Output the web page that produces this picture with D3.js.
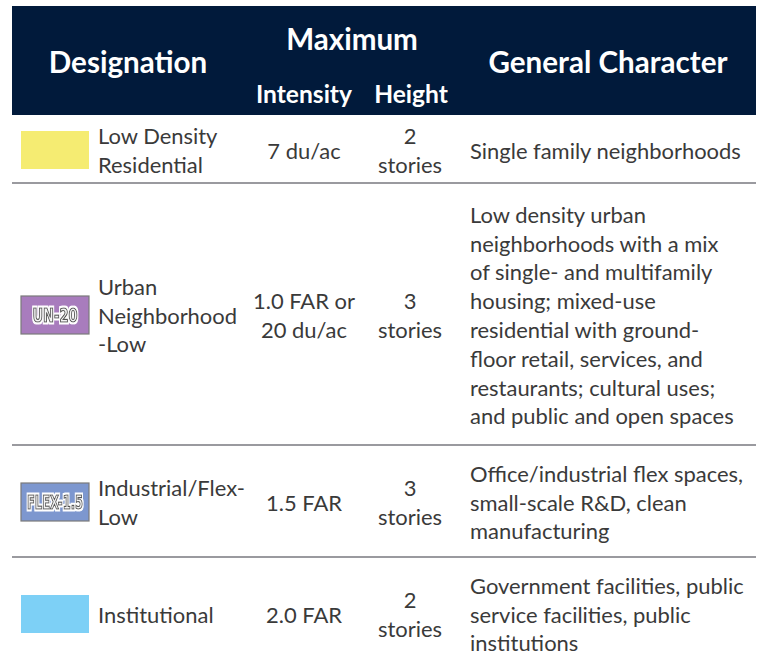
<!DOCTYPE html>
<html><head><meta charset="utf-8">
<script src="https://cdn.jsdelivr.net/npm/d3@7"></script>
<style>html,body{margin:0;padding:0;background:#fff;}svg{display:block;}</style>
</head><body>
<svg id="c" width="764" height="669"></svg>
<script>
// ---- data ----
const designations = [["Low Density","Residential"],["Urban","Neighborhood","-Low"],["Industrial/Flex-","Low"],["Institutional"]];
const swatchColors = ["#f5ec72","#a87cbd","#7d97cf","#7dd0f6"];
const swatchLabels = ["","UN-20","FLEX-1.5",""];
const intensity = [["7 du/ac"],["1.0 FAR or","20 du/ac"],["1.5 FAR"],["2.0 FAR"]];
const heightVals = [["2","stories"],["3","stories"],["3","stories"],["2","stories"]];
const character = [
  ["Single family neighborhoods"],
  ["Low density urban","neighborhoods with a mix","of single- and multifamily","housing; mixed-use","residential with ground-","floor retail, services, and","restaurants; cultural uses;","and public and open spaces"],
  ["Office/industrial flex spaces,","small-scale R&D, clean","manufacturing"],
  ["Government facilities, public","service facilities, public","institutions"]
];
const headers = {designation:"Designation", maximum:"Maximum", intensity:"Intensity", height:"Height", character:"General Character"};

// ---- layout ----
const svg = d3.select("#c");
const left = 12, right = 756;
const headTop = 6, headBottom = 115;
const rowEdges = [115, 183, 445, 557, 669];
const lineH = 28.8;
const font = "Lato, 'Open Sans', sans-serif";
const textColor = "#3a3a3a";

const defs = svg.append("defs");
const f = defs.append("filter").attr("id","halo").attr("x","-20%").attr("y","-40%").attr("width","140%").attr("height","180%");
f.append("feMorphology").attr("in","SourceAlpha").attr("operator","dilate").attr("radius",1.2).attr("result","d");
f.append("feFlood").attr("flood-color","#ffffff").attr("result","w");
f.append("feComposite").attr("in","w").attr("in2","d").attr("operator","in").attr("result","h");
const m = f.append("feMerge");
m.append("feMergeNode").attr("in","h");
m.append("feMergeNode").attr("in","SourceGraphic");

function fitSize(str, weight, targetW, base){
  const t = svg.append("text").attr("font-family", font).attr("font-weight", weight).attr("font-size", base).text(str);
  const w = t.node().getComputedTextLength(); t.remove();
  return base * targetW / w;
}
const bodySize = fitSize("Single family neighborhoods", 400, 271, 20);
const headSize = fitSize("General Character", 700, 239, 26);
const subSize = fitSize("Intensity", 700, 96, 20);

svg.append("rect").attr("x", left).attr("y", headTop).attr("width", right-left).attr("height", headBottom-headTop).attr("fill", "#011a3b");
const hd = svg.append("g").attr("fill", "#fff").attr("font-family", font).attr("font-weight", 700);
hd.append("text").attr("x", 128).attr("y", 63).attr("dy","0.35em").attr("text-anchor","middle").attr("font-size", headSize).text(headers.designation);
hd.append("text").attr("x", 352).attr("y", 40).attr("dy","0.35em").attr("text-anchor","middle").attr("font-size", headSize).text(headers.maximum);
hd.append("text").attr("x", 304).attr("y", 94).attr("dy","0.35em").attr("text-anchor","middle").attr("font-size", subSize).text(headers.intensity);
hd.append("text").attr("x", 411).attr("y", 94).attr("dy","0.35em").attr("text-anchor","middle").attr("font-size", subSize).text(headers.height);
hd.append("text").attr("x", 608).attr("y", 63).attr("dy","0.35em").attr("text-anchor","middle").attr("font-size", headSize).text(headers.character);

const rows = d3.range(designations.length);
const rowCenter = i => (rowEdges[i] + rowEdges[i+1]) / 2;

svg.selectAll("line.sep").data(rowEdges.slice(1, -1)).join("line")
  .attr("class","sep").attr("x1", left).attr("x2", right).attr("y1", d=>d).attr("y2", d=>d)
  .attr("stroke", "#9a9a9f").attr("stroke-width", 2);

function block(g, lines, x, cy, anchor){
  const n = lines.length;
  const t = g.append("text").attr("font-family", font).attr("font-size", bodySize).attr("fill", textColor).attr("text-anchor", anchor);
  lines.forEach((s, k) => {
    t.append("tspan").attr("x", x).attr("y", cy + 2 + (k - (n-1)/2) * lineH).attr("dy", "0.35em").text(s);
  });
}

const rg = svg.selectAll("g.row").data(rows).join("g").attr("class","row");
rg.each(function(i){
  const g = d3.select(this);
  const cy = rowCenter(i);
  g.append("rect").attr("x", 21).attr("y", cy + 1 - 19).attr("width", 68).attr("height", 38)
    .attr("fill", swatchColors[i]).attr("stroke", swatchLabels[i] ? "#7a7a7a" : "none").attr("stroke-width", 1.2);
  if (swatchLabels[i]) {
    const lw = swatchLabels[i].length > 5 ? 56 : 45;
    g.append("g").attr("transform", `translate(55,${cy + 1}) scale(1,1.5)`)
      .append("text").attr("x", 0).attr("y", 0).attr("dy", "0.36em")
      .attr("text-anchor","middle").attr("font-family","'DejaVu Sans Condensed', 'DejaVu Sans', sans-serif")
      .attr("font-weight", 700).attr("font-size", 12.5).attr("textLength", lw).attr("lengthAdjust","spacingAndGlyphs")
      .attr("fill","#f4f4f4").attr("stroke","#555").attr("stroke-width",0.8).attr("filter","url(#halo)")
      .text(swatchLabels[i]);
  }
  block(g, designations[i], 98, cy, "start");
  block(g, intensity[i], 304, cy, "middle");
  block(g, heightVals[i], 410, cy, "middle");
  block(g, character[i], 470, cy, "start");
});
</script>
</body></html>
